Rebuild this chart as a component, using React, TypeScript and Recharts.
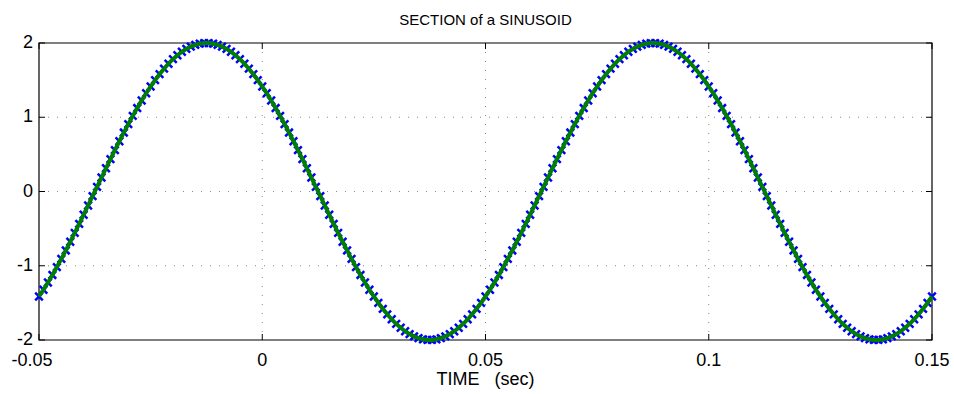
import React from "react"
import { LineChart, Line, XAxis, YAxis, CartesianGrid, ReferenceArea } from "recharts"

// samples of the sinusoid, one every millisecond from -0.05 s
const TIME_START = -0.05
const TIME_STEP = 0.001

const amplitude = [
  -1.414, -1.323, -1.226, -1.124, -1.018, -0.908, -0.794, -0.677, -0.558, -0.436, -0.313, -0.188, -0.063,
  0.063, 0.188, 0.313, 0.436, 0.558, 0.677, 0.794, 0.908, 1.018, 1.124, 1.226, 1.323, 1.414, 1.5, 1.58,
  1.654, 1.721, 1.782, 1.835, 1.882, 1.921, 1.952, 1.975, 1.991, 1.999,
  1.999, 1.991, 1.975, 1.952, 1.921, 1.882, 1.835, 1.782, 1.721, 1.654, 1.58, 1.5, 1.414, 1.323, 1.226,
  1.124, 1.018, 0.908, 0.794, 0.677, 0.558, 0.436, 0.313, 0.188, 0.063,
  -0.063, -0.188, -0.313, -0.436, -0.558, -0.677, -0.794, -0.908, -1.018, -1.124, -1.226, -1.323, -1.414,
  -1.5, -1.58, -1.654, -1.721, -1.782, -1.835, -1.882, -1.921, -1.952, -1.975, -1.991, -1.999,
  -1.999, -1.991, -1.975, -1.952, -1.921, -1.882, -1.835, -1.782, -1.721, -1.654, -1.58, -1.5,
  -1.414, -1.323, -1.226, -1.124, -1.018, -0.908, -0.794, -0.677, -0.558, -0.436, -0.313, -0.188, -0.063,
  0.063, 0.188, 0.313, 0.436, 0.558, 0.677, 0.794, 0.908, 1.018, 1.124, 1.226, 1.323, 1.414, 1.5, 1.58,
  1.654, 1.721, 1.782, 1.835, 1.882, 1.921, 1.952, 1.975, 1.991, 1.999,
  1.999, 1.991, 1.975, 1.952, 1.921, 1.882, 1.835, 1.782, 1.721, 1.654, 1.58, 1.5, 1.414, 1.323, 1.226,
  1.124, 1.018, 0.908, 0.794, 0.677, 0.558, 0.436, 0.313, 0.188, 0.063,
  -0.063, -0.188, -0.313, -0.436, -0.558, -0.677, -0.794, -0.908, -1.018, -1.124, -1.226, -1.323, -1.414,
  -1.5, -1.58, -1.654, -1.721, -1.782, -1.835, -1.882, -1.921, -1.952, -1.975, -1.991, -1.999,
  -1.999, -1.991, -1.975, -1.952, -1.921, -1.882, -1.835, -1.782, -1.721, -1.654, -1.58, -1.5,
  -1.414,
]

const xTicks = [-0.05, 0, 0.05, 0.1, 0.15]
const xTickLabels = ["-0.05", "0", "0.05", "0.1", "0.15"]
const yTicks = [-2, -1, 0, 1, 2]

const data = amplitude.map((v, i) => ({ t: +(TIME_START + i * TIME_STEP).toFixed(3), v }))

const W = 954
const H = 394
const LEFT = 39
const RIGHT = 932
const TOP = 43
const BOTTOM = 340
const FONT = "'Liberation Sans', Arial, Helvetica, sans-serif"

function Cross(props: any) {
  const { cx, cy } = props
  if (cx == null || cy == null) return null
  const s = 3.8
  return (
    <path
      d={`M${cx - s},${cy - s}L${cx + s},${cy + s}M${cx - s},${cy + s}L${cx + s},${cy - s}`}
      stroke="#0000ff"
      strokeWidth={2.5}
      fill="none"
    />
  )
}

function XTick(props: any) {
  const { x, payload } = props
  const i = xTicks.indexOf(payload.value)
  // the leftmost label sits a little left of its tick, as in the reference
  const tx = i === 0 ? x - 7 : x
  return (
    <g>
      <line x1={x} x2={x} y1={BOTTOM} y2={BOTTOM - 6} stroke="#000" />
      <line x1={x} x2={x} y1={TOP} y2={TOP + 6} stroke="#000" />
      <text x={tx} y={365.5} textAnchor="middle" fontSize={18} fontFamily={FONT} fill="#000">
        {i >= 0 ? xTickLabels[i] : payload.value}
      </text>
    </g>
  )
}

function YTick(props: any) {
  const { y, payload } = props
  return (
    <g>
      <line x1={LEFT} x2={LEFT + 6} y1={y} y2={y} stroke="#000" />
      <line x1={RIGHT} x2={RIGHT - 6} y1={y} y2={y} stroke="#000" />
      <text x={33} y={y + 5} textAnchor="end" fontSize={18} fontFamily={FONT} fill="#000">
        {payload.value}
      </text>
    </g>
  )
}

const chartMargin = { top: TOP, right: W - RIGHT, left: LEFT, bottom: H - BOTTOM }

export default function App() {
  return (
    <div style={{ position: "absolute", left: 0, top: 0, width: W, height: H, background: "#fff" }}>
      <LineChart width={W} height={H} data={data} margin={{ top: TOP, right: W - RIGHT, left: 0, bottom: 0 }}>
        <CartesianGrid
          stroke="#888"
          strokeDasharray="1 8"
          horizontalValues={[-1, 0, 1]}
          verticalValues={[0, 0.05, 0.1]}
        />
        <XAxis
          dataKey="t"
          type="number"
          domain={[-0.05, 0.15]}
          ticks={xTicks}
          height={H - BOTTOM}
          axisLine={false}
          tickLine={false}
          tick={<XTick />}
          interval={0}
        />
        <YAxis
          type="number"
          domain={[-2, 2]}
          ticks={yTicks}
          width={LEFT}
          axisLine={false}
          tickLine={false}
          tick={<YTick />}
          interval={0}
        />
        <ReferenceArea x1={-0.05} x2={0.15} y1={-2} y2={2} fill="none" stroke="#000" strokeWidth={1.2} />
        <Line
          dataKey="v"
          stroke="none"
          dot={<Cross />}
          activeDot={false}
          isAnimationActive={false}
        />
      </LineChart>
      {/* green trace drawn on a second, transparent chart so it lies above the markers */}
      <div style={{ position: "absolute", left: 0, top: 0, pointerEvents: "none" }}>
        <LineChart width={W} height={H} data={data} margin={chartMargin}>
          <XAxis dataKey="t" type="number" domain={[-0.05, 0.15]} hide />
          <YAxis type="number" domain={[-2, 2]} hide />
          <Line
            dataKey="v"
            stroke="#008000"
            strokeWidth={4}
            dot={false}
            activeDot={false}
            isAnimationActive={false}
          />
        </LineChart>
      </div>
      <div
        style={{
          position: "absolute",
          left: LEFT,
          width: RIGHT - LEFT,
          top: 10,
          textAlign: "center",
          fontFamily: FONT,
          fontSize: 15,
          lineHeight: "20px",
        }}
      >
        SECTION of a SINUSOID
      </div>
      <div
        style={{
          position: "absolute",
          left: LEFT,
          width: RIGHT - LEFT,
          top: 369,
          textAlign: "center",
          fontFamily: FONT,
          fontSize: 18,
          lineHeight: "21px",
          whiteSpace: "pre",
        }}
      >
        {"TIME   (sec)"}
      </div>
    </div>
  )
}
